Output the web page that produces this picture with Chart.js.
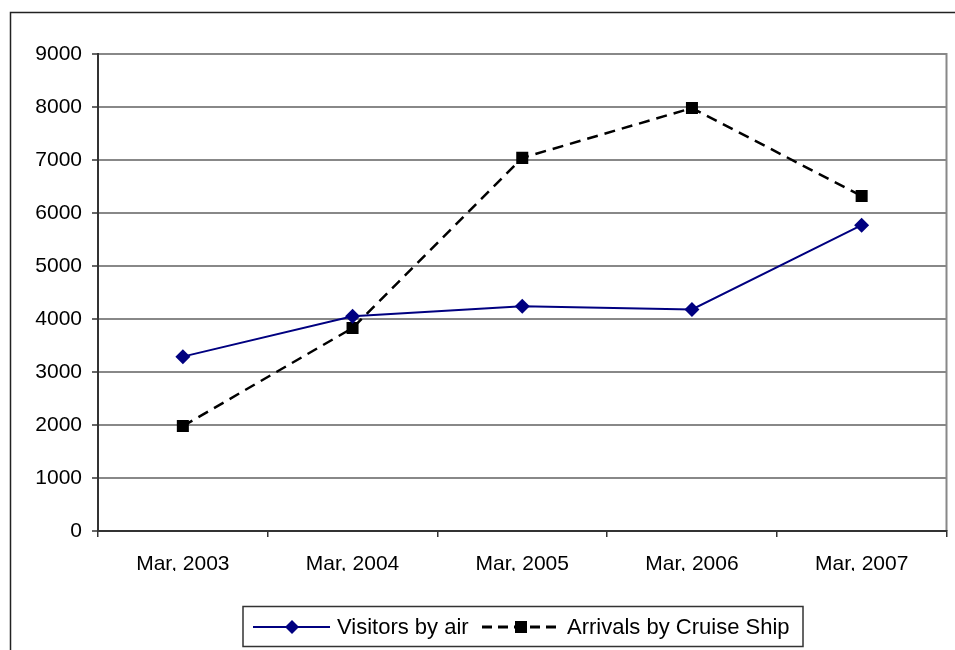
<!DOCTYPE html>
<html>
<head>
<meta charset="utf-8">
<script src="https://cdn.jsdelivr.net/npm/chart.js@4/dist/chart.umd.min.js"></script>
<style>
  html, body { margin: 0; padding: 0; background: #fff; }
  #wrap { width: 955px; height: 650px; position: relative; }
</style>
</head>
<body>
<div id="wrap"><canvas id="chartVisitors"></canvas></div>
<script>
var categories = ['Mar, 2003', 'Mar, 2004', 'Mar, 2005', 'Mar, 2006', 'Mar, 2007'];
var visitorsByAir = [3290, 4050, 4240, 4180, 5770];
var cruiseArrivals = [1980, 3830, 7040, 7980, 6320];
var seriesNames = ['Visitors by air', 'Arrivals by Cruise Ship'];

var FONT = "'Liberation Sans', Arial, sans-serif";

// frame, plot border and legend box drawn by hand
var framePlugin = {
	id: 'frame',
	beforeDraw: function (chart) {
		var c = chart.ctx, a = chart.chartArea;
		c.save();
		c.fillStyle = '#fff';
		c.fillRect(0, 0, chart.width, chart.height);
		c.strokeStyle = '#222';
		c.lineWidth = 1.5;
		c.beginPath();
		c.moveTo(10.5, chart.height);
		c.lineTo(10.5, 12.5);
		c.lineTo(chart.width, 12.5);
		c.stroke();
		c.strokeStyle = '#888';
		c.lineWidth = 2;
		c.beginPath();
		c.moveTo(a.left, a.top);
		c.lineTo(a.right, a.top);
		c.lineTo(a.right, a.bottom);
		c.stroke();
		c.restore();
	},
	afterDraw: function (chart) {
		var c = chart.ctx;
		c.save();
		c.strokeStyle = '#333';
		c.lineWidth = 1.5;
		c.strokeRect(243, 606.5, 560, 40);
		var y = 627;
		c.font = '22px ' + FONT;
		c.fillStyle = '#000';
		c.textBaseline = 'middle';

		c.strokeStyle = '#000080';
		c.lineWidth = 2;
		c.beginPath(); c.moveTo(253, y); c.lineTo(330, y); c.stroke();
		c.fillStyle = '#000080';
		c.beginPath();
		c.moveTo(292, y - 7); c.lineTo(299, y); c.lineTo(292, y + 7); c.lineTo(285, y);
		c.closePath(); c.fill();
		c.fillStyle = '#000';
		c.fillText(seriesNames[0], 337, y + 1);

		c.strokeStyle = '#000';
		c.lineWidth = 3;
		c.setLineDash([10, 6]);
		c.beginPath(); c.moveTo(482, y); c.lineTo(560, y); c.stroke();
		c.setLineDash([]);
		c.fillRect(515, y - 6, 12, 12);
		c.fillText(seriesNames[1], 567, y + 1);
		c.restore();
	}
};

var ctx = document.getElementById('chartVisitors').getContext('2d');
var chart = new Chart(ctx, {
	type: 'line',
	data: {
		labels: categories,
		datasets: [{
			label: seriesNames[0],
			data: visitorsByAir,
			borderColor: '#000080',
			backgroundColor: '#000080',
			borderWidth: 2,
			pointStyle: 'rectRot',
			pointRadius: 7.5,
			pointBorderWidth: 0,
			tension: 0
		}, {
			label: seriesNames[1],
			data: cruiseArrivals,
			borderColor: '#000',
			backgroundColor: '#000',
			borderWidth: 2.5,
			borderDash: [11, 7],
			pointStyle: 'rect',
			pointRadius: 8.5,
			pointBorderWidth: 0,
			tension: 0
		}]
	},
	options: {
		responsive: true,
		maintainAspectRatio: false,
		animation: false,
		layout: { padding: { left: 0, top: 54, right: 6, bottom: 79 } },
		plugins: { legend: { display: false }, tooltip: { enabled: false } },
		scales: {
			x: {
				offset: true,
				grid: { offset: true, drawOnChartArea: false, drawTicks: true, tickLength: 6, color: '#333', lineWidth: 1.5 },
				border: { color: '#333', width: 2 },
				ticks: { color: '#000', font: { family: FONT, size: 21 }, padding: 15, maxRotation: 0 },
				afterFit: function (s) { s.height = 40; }
			},
			y: {
				min: 0,
				max: 9000,
				ticks: {
					stepSize: 1000, color: '#000', font: { family: FONT, size: 21 }, padding: 10,
					callback: function (v) { return String(v); }
				},
				grid: { color: '#888', lineWidth: 2, tickLength: 6, tickColor: '#333', tickWidth: 1.5 },
				border: { color: '#333', width: 2 },
				afterFit: function (s) { s.width = 98; }
			}
		}
	},
	plugins: [framePlugin]
});
</script>
</body>
</html>
